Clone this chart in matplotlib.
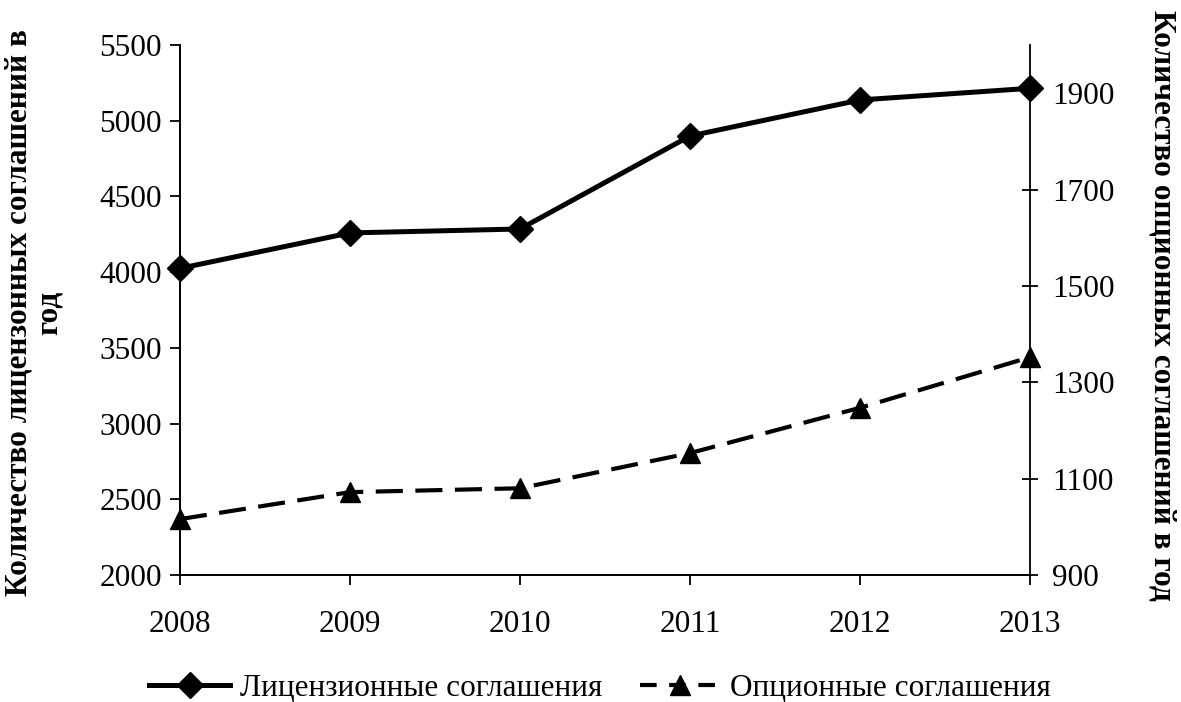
import matplotlib
matplotlib.use("Agg")
import matplotlib.pyplot as plt
from matplotlib.lines import Line2D

years = [2008, 2009, 2010, 2011, 2012, 2013]
license_vals = [4025, 4259, 4285, 4899, 5137, 5214]
option_vals = [1016, 1072, 1080, 1153, 1247, 1352]
left_ticks = [2000, 2500, 3000, 3500, 4000, 4500, 5000, 5500]
right_ticks = [900, 1100, 1300, 1500, 1700, 1900]
label_license = "Лицензионные соглашения"
label_option = "Опционные соглашения"
ylabel_left = "Количество лицензонных соглашений в\nгод"
ylabel_right = "Количество опционных соглашений в год"

plt.rcParams['font.family'] = ['Liberation Serif', 'DejaVu Serif']
FS = 22.5
plt.rcParams['font.size'] = FS

fig = plt.figure(figsize=(11.81, 7.02), dpi=100)
ax = fig.add_axes([0.1524, 0.1809, 0.7197, 0.755])
ax2 = ax.twinx()

ax.set_xlim(2008, 2013)
ax.set_ylim(2000, 5500)
ax2.set_ylim(900, 2000)

lw1 = 3.6
lw2 = 3.0
ax.plot(years, license_vals, color='black', lw=lw1, marker='D', markersize=13,
        clip_on=False, zorder=5, solid_joinstyle='round')
ax2.plot(years, option_vals, color='black', lw=lw2, linestyle=(0, (6.5, 3)),
         dash_capstyle='butt', marker='^', markersize=15, clip_on=False, zorder=5)

ax.set_xticks(years)
ax.set_xticklabels([str(y) for y in years])
ax.set_yticks(left_ticks)
ax2.set_yticks(right_ticks)

ax.spines['top'].set_visible(False)
ax2.spines['top'].set_visible(False)
ax.spines['right'].set_visible(False)
for a in (ax, ax2):
    for s in a.spines.values():
        s.set_linewidth(1.3)

ax.tick_params(axis='y', direction='out', length=7, width=1.3, pad=6, labelsize=FS)
ax.tick_params(axis='x', direction='out', length=7, width=1.3, pad=18, labelsize=FS)
ax2.tick_params(axis='y', direction='inout', length=12, width=1.3, pad=10, labelsize=FS)

fig.text(34 / 1181, 1 - 313 / 702, ylabel_left, rotation=90, ha='center', va='center',
         multialignment='center', fontweight='bold', fontsize=FS, linespacing=1.05)
fig.text(1162 / 1181, 1 - 305 / 702, ylabel_right, rotation=270, ha='center',
         va='center', fontweight='bold', fontsize=FS)

handles = [
    Line2D([], [], color='black', lw=lw1, marker='D', markersize=13),
    Line2D([], [], color='black', lw=lw2, marker='^', markersize=15,
           linestyle=(0, (4, 3))),
]
fig.legend(handles, [label_license, label_option], loc='center',
           bbox_to_anchor=(600 / 1181, 1 - 688 / 702), ncol=2, frameon=False,
           fontsize=FS, handlelength=2.6, columnspacing=1.2, handletextpad=0.3,
           borderpad=0.1)

fig.savefig('out.png', dpi=100)
